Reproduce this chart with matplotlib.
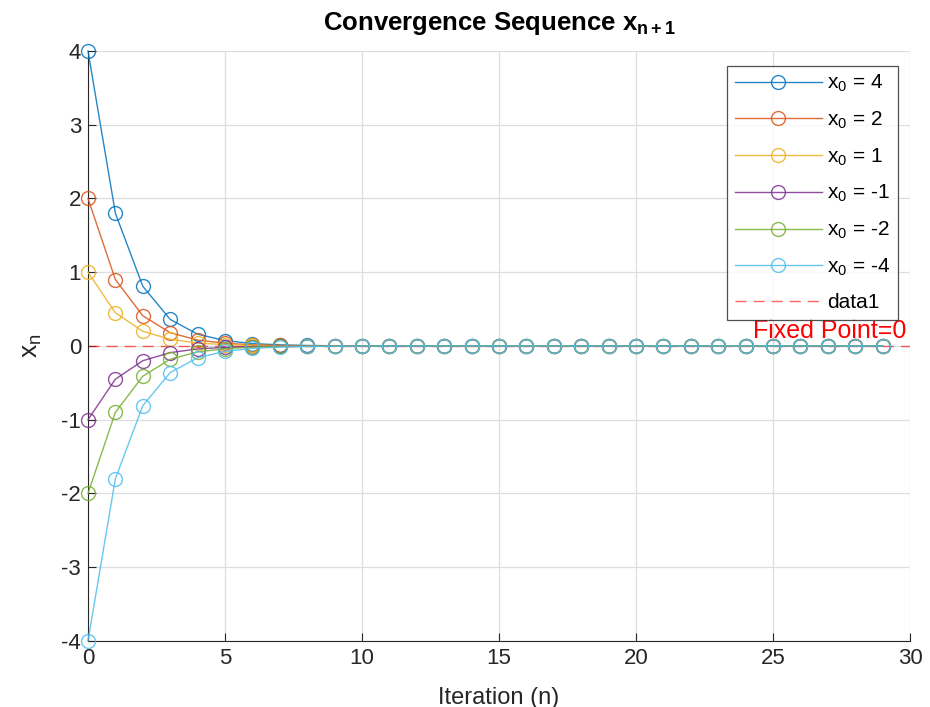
import numpy as np
import matplotlib.pyplot as plt

plt.rcParams['font.family'] = ['Liberation Sans', 'DejaVu Sans']
plt.rcParams['mathtext.fontset'] = 'custom'
plt.rcParams['mathtext.rm'] = 'Liberation Sans'
plt.rcParams['mathtext.it'] = 'Liberation Sans'
plt.rcParams['mathtext.bf'] = 'Liberation Sans:bold'
plt.rcParams['axes.unicode_minus'] = False

# iteration index n = 0..29
n = list(range(30))

# sequences, one per starting value
seq_p4 = [4, 1.8, 0.81, 0.36, 0.16, 0.073, 0.033, 0.015, 0.007, 0.003,
          0.0013, 0.0006, 0.0003, 0.0001, 0, 0, 0, 0, 0, 0,
          0, 0, 0, 0, 0, 0, 0, 0, 0, 0]
seq_p2 = [2, 0.9, 0.41, 0.18, 0.08, 0.037, 0.016, 0.007, 0.003, 0.0015,
          0.0007, 0.0003, 0.0001, 0, 0, 0, 0, 0, 0, 0,
          0, 0, 0, 0, 0, 0, 0, 0, 0, 0]
seq_p1 = [1, 0.45, 0.2, 0.09, 0.04, 0.018, 0.008, 0.004, 0.002, 0.0008,
          0.0003, 0.0002, 0.0001, 0, 0, 0, 0, 0, 0, 0,
          0, 0, 0, 0, 0, 0, 0, 0, 0, 0]
seq_m1 = [-1, -0.45, -0.2, -0.09, -0.04, -0.018, -0.008, -0.004, -0.002, -0.0008,
          -0.0003, -0.0002, -0.0001, 0, 0, 0, 0, 0, 0, 0,
          0, 0, 0, 0, 0, 0, 0, 0, 0, 0]
seq_m2 = [-2, -0.9, -0.41, -0.18, -0.08, -0.037, -0.016, -0.007, -0.003, -0.0015,
          -0.0007, -0.0003, -0.0001, 0, 0, 0, 0, 0, 0, 0,
          0, 0, 0, 0, 0, 0, 0, 0, 0, 0]
seq_m4 = [-4, -1.8, -0.81, -0.36, -0.16, -0.073, -0.033, -0.015, -0.007, -0.003,
          -0.0013, -0.0006, -0.0003, -0.0001, 0, 0, 0, 0, 0, 0,
          0, 0, 0, 0, 0, 0, 0, 0, 0, 0]

series = [seq_p4, seq_p2, seq_p1, seq_m1, seq_m2, seq_m4]
labels = ['x$_0$ = 4', 'x$_0$ = 2', 'x$_0$ = 1', 'x$_0$ = -1', 'x$_0$ = -2', 'x$_0$ = -4']
colors = ['#0072BD', '#D95319', '#EDB120', '#7E2F8E', '#77AC30', '#4DBEEE']
fixed_point = 0

fig = plt.figure(figsize=(9.3, 7.07), dpi=100)
ax = fig.add_axes([0.0946, 0.0934, 0.884, 0.8345])

for s, lab, c in zip(series, labels, colors):
    ax.plot(n, s, '-o', color=c, lw=1.0, ms=10, mfc='none', mew=1.0,
            alpha=0.85, label=lab, clip_on=False, zorder=3)

ax.plot([0, 30], [fixed_point, fixed_point], '--', color='red', lw=1.0,
        alpha=0.6, dashes=(8, 5), label='data1')
ax.text(29.85, fixed_point + 0.04, f'Fixed Point={fixed_point}', color='red',
        fontsize=18, ha='right', va='bottom', zorder=1)

ax.set_xlim(0, 30)
ax.set_ylim(-4, 4)
ax.set_xticks(range(0, 31, 5))
ax.set_yticks(range(-4, 5))
ax.tick_params(direction='in', labelsize=16, color='#262626', labelcolor='#262626',
               length=6, pad=5)
ax.grid(True, color='#dedede', lw=0.9)
ax.set_axisbelow(True)
for side in ['top', 'right']:
    ax.spines[side].set_visible(False)
for side in ['left', 'bottom']:
    ax.spines[side].set_color('#262626')

ax.set_title(r'Convergence Sequence x$_{\mathbf{n+1}}$', fontsize=18.5,
             fontweight='bold', pad=15)
ax.set_xlabel('Iteration (n)', fontsize=17, color='#262626', labelpad=13)
ax.set_ylabel('x$_n$', fontsize=19, color='#262626', labelpad=12)

leg = ax.legend(loc='upper right', bbox_to_anchor=(0.985, 0.975), fontsize=15,
                frameon=True, fancybox=False, edgecolor='#262626',
                handlelength=4.2, borderpad=0.35, labelspacing=0.74,
                handletextpad=0.25, borderaxespad=0.0)
leg.get_frame().set_linewidth(0.9)
leg.set_zorder(5)

fig.savefig('out.png', dpi=100)
